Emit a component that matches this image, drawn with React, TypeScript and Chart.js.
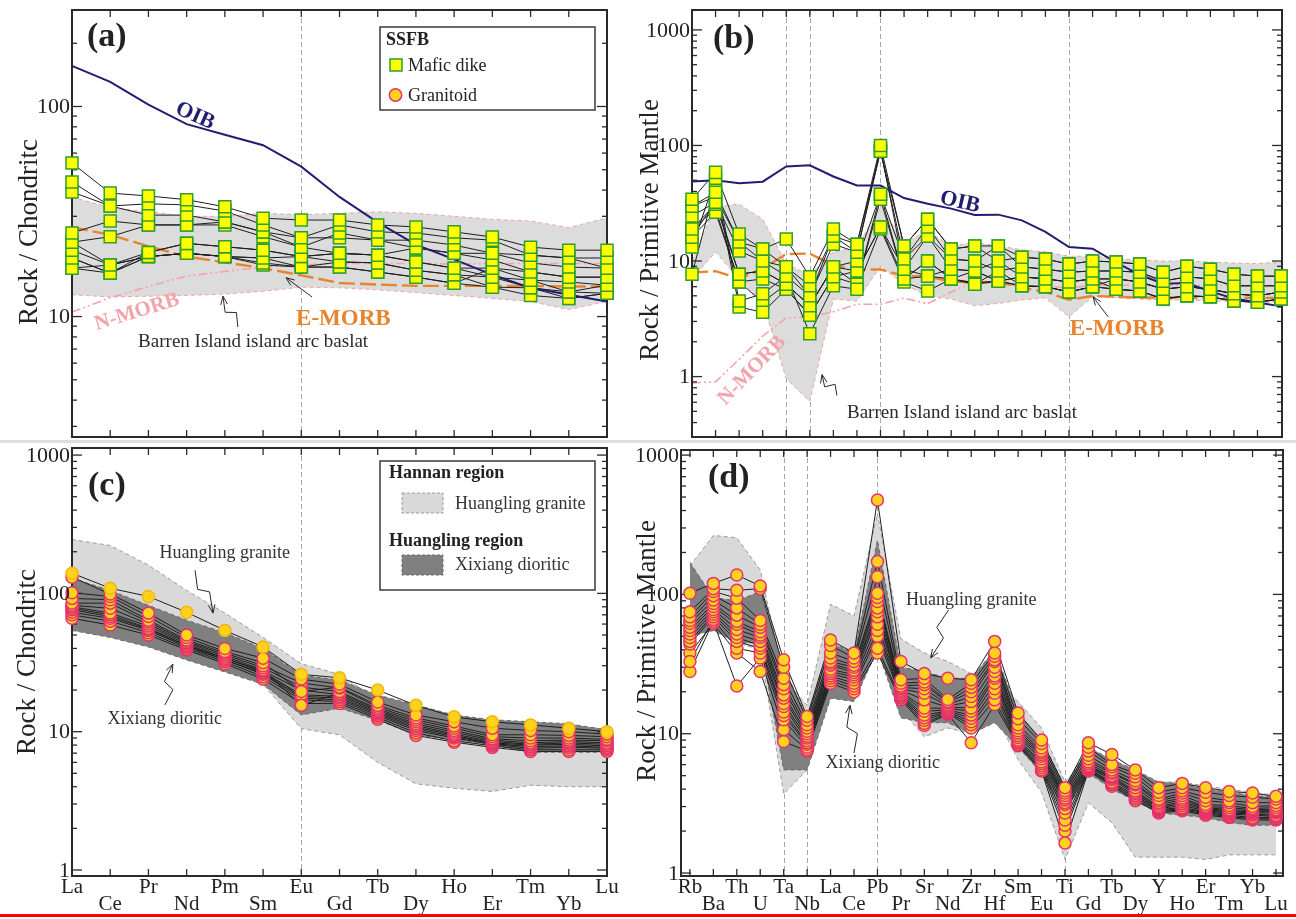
import React, { useEffect, useRef } from 'react';
import { Chart, registerables } from 'chart.js';

Chart.register(...registerables);
Chart.defaults.font.family = '"Liberation Serif", "Times New Roman", serif';

const SERIF = '"Liberation Serif", "Times New Roman", serif';

// ---------- element orders / tick labels ----------
const REE = ['La', 'Ce', 'Pr', 'Nd', 'Pm', 'Sm', 'Eu', 'Gd', 'Tb', 'Dy', 'Ho', 'Er', 'Tm', 'Yb', 'Lu'];
const SPIDER = ['Rb', 'Ba', 'Th', 'U', 'Ta', 'Nb', 'La', 'Ce', 'Pb', 'Pr', 'Sr', 'Nd', 'Zr', 'Hf', 'Sm', 'Eu', 'Ti', 'Gd', 'Tb', 'Dy', 'Y', 'Ho', 'Er', 'Tm', 'Yb', 'Lu'];
const Y_LABELS_A = [10, 100];
const Y_LABELS_BCD = [1, 10, 100, 1000];

// ---------- reference basalts, chondrite-normalized ----------
const OIB_CH = [156, 131, 102, 82.4, 73.4, 65.4, 51.7, 37.1, 28.1, 22.0, 18.7, 15.8, 13.7, 12.7, 11.8];
const EMORB_CH = [26.6, 24.5, 21.6, 19.3, 18.1, 17.0, 15.7, 14.45, 14.2, 14.0, 14.0, 14.0, 14.0, 13.9, 13.9];
const NMORB_CH = [10.5, 12.3, 13.9, 15.6, 16.4, 17.2, 17.6, 17.9, 17.9, 17.9, 17.8, 17.9, 17.9, 17.9, 17.9];

// ---------- reference basalts, primitive-mantle-normalized ----------
const OIB_PM = [48.8, 50.1, 47.1, 48.6, 65.9, 67.3, 53.9, 45.1, 45.1, 35.1, 31.3, 28.4, 25.0, 25.2, 22.5, 17.9, 13.2, 12.8, 9.72, 7.6, 6.37, 6.46, 5.46, 4.73, 4.38, 4.05];
const EMORB_PM = [7.94, 8.16, 7.06, 8.57, 11.5, 11.6, 9.17, 8.45, 8.45, 7.43, 7.35, 6.65, 6.52, 6.57, 5.86, 5.42, 4.62, 4.98, 4.91, 4.82, 4.84, 4.82, 4.81, 4.81, 4.81, 4.78];
const NMORB_PM = [0.88, 0.9, 1.41, 2.24, 3.22, 3.27, 3.64, 4.23, 4.23, 4.78, 4.27, 5.39, 6.61, 6.63, 5.92, 6.07, 5.85, 6.17, 6.2, 6.17, 6.15, 6.16, 6.19, 6.16, 6.19, 6.15];

// ---------- Barren Island arc basalt envelopes ----------
const BARREN_CH_UPPER = [37, 33, 31.5, 30, 30, 31, 30.5, 31, 31.5, 31, 30, 29, 28.5, 26.5, 29.5];
const BARREN_CH_LOWER = [12.7, 12.4, 12.5, 12.6, 12.8, 13.2, 13.8, 13.7, 13.4, 13.0, 12.6, 12.2, 11.8, 10.8, 11.8];
const BARREN_PM_UPPER = [10, 30, 31, 23, 9.5, 7.5, 12, 13, 30, 14.5, 18, 13.5, 14.5, 13.5, 12.5, 12, 11, 11, 10.5, 10.2, 10, 10, 9.8, 9.6, 9.5, 9.8];
const BARREN_PM_LOWER = [7, 12, 7, 4.4, 0.96, 0.61, 4.7, 4.5, 9, 6.3, 5, 4.7, 4.1, 4.3, 4.6, 4.8, 3.3, 4.9, 4.8, 4.7, 4.6, 4.6, 4.5, 4.5, 4.4, 4.4];

// ---------- Huangling granite / Xixiang dioritic envelopes ----------
const HLG_CH_UPPER = [245, 222, 160, 105, 72, 48, 31, 26, 17, 14, 12.5, 12, 11.5, 11, 10.5];
const HLG_CH_LOWER = [60, 55, 45, 37, 30, 22, 10.5, 9.5, 6.0, 4.2, 3.9, 3.7, 4.1, 4.0, 4.0];
const XXD_CH_UPPER = [129, 105, 82, 64, 52, 40, 25.6, 23.6, 18.4, 15.6, 13.2, 12.2, 11.8, 11.4, 10.3];
const XXD_CH_LOWER = [54, 48, 41, 33, 27, 22, 13.2, 14.8, 12.1, 9.5, 8.7, 8.0, 7.1, 7.1, 7.1];

const HLG_PM_UPPER = [160, 265, 255, 150, 25, 16, 85, 70, 380, 48, 38, 33, 27, 24, 17, 11, 4.5, 7, 6, 5, 4.5, 4.5, 4.2, 4.0, 3.8, 3.6];
const HLG_PM_LOWER = [80, 60, 45, 40, 3.7, 5.5, 20, 18, 40, 15, 9.5, 11, 10, 14, 6.5, 3.8, 1.25, 3.2, 2.3, 1.3, 1.3, 1.3, 1.25, 1.35, 1.35, 1.35];
const XXD_PM_UPPER = [170, 95, 90, 105, 30, 13, 45, 38, 245, 30, 28, 25, 25, 40, 14, 9, 4.2, 8, 6.5, 5.5, 4.5, 4.4, 4.0, 3.8, 3.6, 3.5];
const XXD_PM_LOWER = [50, 55, 45, 45, 5.5, 5.5, 18, 17, 40, 13, 12, 12, 10, 12, 8, 5.2, 2.7, 5.2, 4.0, 3.3, 2.7, 2.6, 2.5, 2.3, 2.2, 2.2];

// ---------- SSFB mafic dikes ----------
const MAFIC_CH = [
  [53.8, 38.7, 37.5, 36.0, 33.3, 29.4, 28.8, 28.8, 27.3, 26.7, 25.3, 23.9, 21.4, 20.7, 20.7],
  [43.7, 33.6, 34.4, 34.0, 31.8, 27.3, 23.7, 27.3, 25.3, 25.0, 23.7, 23.1, 19.6, 19.0, 19.0],
  [39.2, 33.6, 30.4, 30.4, 28.2, 25.3, 21.4, 25.0, 23.1, 23.1, 21.9, 20.0, 18.0, 17.2, 17.0],
  [25.0, 28.5, 27.3, 27.3, 28.2, 25.3, 23.7, 23.7, 23.1, 21.2, 20.0, 18.6, 16.3, 15.4, 15.4],
  [22.6, 24.0, 27.3, 27.3, 27.3, 24.0, 21.4, 20.0, 19.6, 18.2, 17.0, 17.0, 14.9, 14.6, 14.1],
  [20.7, 17.6, 20.2, 22.3, 21.5, 20.7, 19.3, 20.0, 19.6, 18.2, 17.0, 15.4, 14.9, 13.1, 14.1],
  [19.0, 16.1, 20.2, 22.3, 21.5, 20.7, 19.3, 18.2, 18.0, 16.6, 15.8, 15.4, 13.7, 13.1, 12.9],
  [17.0, 16.1, 19.3, 20.0, 19.3, 19.0, 17.2, 18.2, 18.0, 16.6, 15.8, 13.8, 13.7, 12.2, 12.9],
  [22.6, 17.6, 19.3, 20.0, 19.3, 18.0, 17.2, 17.2, 16.3, 15.4, 14.4, 13.8, 12.6, 12.2, 12.9],
  [19.0, 16.1, 19.3, 20.0, 19.3, 17.6, 17.2, 17.2, 16.3, 15.4, 14.4, 17.0, 16.3, 15.4, 15.4],
  [17.0, 17.6, 19.3, 20.0, 19.3, 19.0, 19.3, 20.0, 19.6, 21.2, 20.0, 20.0, 19.6, 19.0, 17.0],
];
const MAFIC_PM = [
  [34.2, 58.5, 17.1, 12.7, 15.5, 7.3, 18.9, 14.0, 100, 13.5, 23.0, 12.7, 13.5, 13.5, 10.8, 10.4, 9.4, 10.0, 9.8, 9.4, 8.0, 9.0, 8.5, 7.7, 7.4, 7.4],
  [29.8, 39.4, 14.6, 12.7, 8.9, 6.1, 16.4, 14.0, 89, 10.4, 19.7, 10.4, 10.0, 13.5, 8.9, 8.5, 8.0, 8.2, 8.2, 8.0, 6.7, 7.3, 7.0, 6.1, 6.1, 6.1],
  [24.5, 32.2, 12.2, 10.0, 7.4, 5.0, 14.0, 11.9, 95, 8.5, 16.4, 8.5, 8.2, 10.0, 7.3, 7.0, 6.6, 7.0, 7.0, 6.6, 5.7, 6.0, 5.7, 5.2, 5.0, 5.4],
  [18.9, 31.0, 7.7, 8.2, 6.3, 4.1, 8.9, 10.0, 37.9, 7.0, 10.0, 7.0, 6.3, 8.2, 6.1, 6.0, 5.4, 6.0, 5.7, 5.5, 4.7, 5.0, 4.9, 4.5, 4.4, 4.7],
  [16.1, 26.4, 6.6, 7.0, 5.7, 3.4, 7.3, 8.2, 19.7, 8.5, 7.4, 8.5, 8.2, 6.7, 7.3, 7.0, 6.6, 7.0, 5.7, 5.5, 4.7, 5.0, 4.9, 4.5, 4.4, 4.7],
  [13.2, 52.0, 4.5, 5.2, 7.4, 2.35, 6.1, 5.7, 18.9, 6.6, 5.5, 7.0, 6.3, 6.7, 6.1, 6.0, 5.4, 6.0, 7.0, 6.6, 5.7, 6.0, 5.7, 5.2, 5.0, 5.4],
  [7.7, 45.0, 4.0, 3.6, 5.7, 3.4, 7.3, 6.3, 34.2, 7.0, 7.4, 7.0, 6.5, 6.7, 6.1, 6.0, 5.4, 6.0, 5.7, 5.5, 4.7, 5.0, 4.9, 4.5, 4.4, 4.7],
  [29.8, 36.0, 14.6, 10.0, 8.9, 5.0, 16.4, 11.9, 89, 13.5, 23.0, 12.7, 13.5, 10.0, 10.8, 10.4, 9.4, 10.0, 9.8, 9.4, 8.0, 9.0, 8.5, 7.7, 7.4, 7.4],
  [18.9, 28.0, 6.6, 4.4, 6.3, 4.1, 8.9, 6.3, 37.9, 10.4, 16.4, 10.4, 10.0, 8.2, 8.9, 8.5, 8.0, 8.2, 8.2, 8.0, 6.7, 7.3, 7.0, 6.1, 6.1, 6.1],
  [16.1, 33.0, 7.7, 8.2, 6.3, 4.1, 8.9, 8.2, 19.7, 7.0, 10.0, 7.0, 8.2, 6.7, 7.3, 7.0, 6.6, 7.0, 7.0, 6.6, 5.7, 6.0, 5.7, 5.2, 5.0, 5.4],
];

// ---------- SSFB granitoids ----------
const GRANITOID_CH = [
  [140, 109, 95, 73, 54, 41, 26, 24.5, 20, 15.5, 12.8, 11.8, 11.2, 10.6, 10.0],
  [131, 99, 72, 50, 40, 34, 24, 22, 16.4, 13.2, 11.8, 10.6, 10.2, 10.0, 9.6],
  [101, 95, 68, 48, 38, 31.5, 19.5, 21, 15.5, 12.6, 11.0, 9.5, 9.5, 9.4, 9.2],
  [92, 90, 64, 46, 37, 30, 22.5, 20.7, 15.0, 12.2, 10.6, 9.2, 9.0, 9.0, 8.8],
  [85, 85, 62, 45, 36, 29, 21, 19.5, 14.6, 11.8, 10.2, 8.9, 8.6, 8.7, 8.6],
  [82, 78, 60, 44, 35, 28, 15.5, 19, 14.3, 11.4, 9.9, 8.7, 8.3, 8.5, 8.3],
  [80, 72, 58, 43, 34, 27.5, 20, 18.5, 14.0, 11.1, 9.6, 8.5, 8.1, 8.3, 8.1],
  [78, 70, 56, 42, 34, 27, 18.5, 18, 13.7, 10.8, 9.4, 8.3, 8.0, 8.1, 7.9],
  [76, 68, 55, 42, 33, 26.5, 18, 17.5, 13.4, 10.5, 9.2, 8.2, 7.8, 7.9, 7.7],
  [73, 66, 54, 41, 33, 26, 17.5, 17, 13.1, 10.2, 9.0, 8.1, 7.6, 7.7, 7.6],
  [70, 63, 52, 40, 32, 25, 17, 16.5, 12.7, 9.8, 8.6, 7.9, 7.4, 7.4, 7.4],
  [66, 59, 50, 39, 31, 24, 16, 16.0, 12.3, 9.4, 8.4, 7.7, 7.2, 7.2, 7.2],
];
const GRANITOID_PM = [
  [102, 120, 138, 115, 34, 13.3, 47, 38, 476, 33, 27, 25, 24.4, 46, 14.1, 9.0, 4.1, 8.6, 7.1, 5.5, 4.1, 4.4, 4.1, 3.85, 3.75, 3.55],
  [75, 110, 107, 110, 30, 12.5, 43, 35, 172, 24.4, 25, 17.6, 23, 38, 12.8, 8.5, 3.9, 8.0, 6.0, 5.2, 3.8, 4.1, 3.8, 3.6, 3.5, 3.4],
  [69, 105, 94, 65, 25, 11.6, 38, 33, 134, 23, 23.5, 17, 21.5, 36, 11.6, 7.9, 3.75, 7.5, 5.8, 4.9, 3.6, 3.9, 3.5, 3.3, 3.2, 3.2],
  [65, 98, 80, 61, 22.5, 11, 35, 31, 102, 22, 22.5, 16.7, 20, 34, 11.0, 7.5, 3.6, 7.0, 5.5, 4.6, 3.4, 3.75, 3.3, 3.2, 3.0, 3.05],
  [62, 91, 71, 58, 21, 10.4, 33, 30, 95, 21.5, 21, 16.2, 18.5, 33, 10.5, 7.3, 3.45, 6.6, 5.3, 4.4, 3.3, 3.6, 3.1, 3.05, 2.9, 2.95],
  [58, 86, 64, 54, 19, 10, 32, 28.5, 89, 21, 19.5, 15.8, 17, 30, 10.1, 7.1, 3.35, 6.3, 5.2, 4.3, 3.2, 3.45, 3.0, 2.95, 2.85, 2.85],
  [55, 82, 61, 51, 18, 9.6, 31, 27.5, 80, 20.5, 17.5, 15.5, 15.3, 28, 9.7, 6.9, 3.2, 6.1, 5.0, 4.1, 3.1, 3.35, 2.95, 2.85, 2.8, 2.8],
  [52, 78, 56, 49, 16.5, 9.3, 29, 26.5, 75, 20, 15.3, 15.2, 14.5, 26, 9.4, 6.6, 3.1, 5.9, 4.9, 3.9, 3.0, 3.25, 2.9, 2.8, 2.75, 2.75],
  [49, 75, 52, 46, 15.7, 8.9, 28, 25.5, 69, 19.5, 14.5, 14.8, 13.6, 25, 9.0, 6.3, 2.9, 5.8, 4.8, 3.8, 2.95, 3.15, 2.85, 2.75, 2.7, 2.7],
  [46, 72, 49, 43, 14.3, 8.6, 27, 24.4, 61, 19, 13.6, 14.6, 12.9, 23, 8.8, 6.1, 2.7, 5.7, 4.7, 3.7, 2.9, 3.05, 2.8, 2.7, 2.65, 2.6],
  [44, 69, 46, 41, 13.5, 8.4, 26, 23, 55, 18.7, 13, 14.4, 12.2, 21, 8.6, 5.9, 2.4, 5.6, 4.5, 3.6, 2.85, 2.95, 2.75, 2.65, 2.6, 2.55],
  [33, 66, 41, 38, 12.6, 8.0, 25, 22, 50, 18.3, 12.5, 14.2, 11.6, 19.5, 8.4, 5.7, 2.2, 5.5, 4.4, 3.5, 2.8, 2.9, 2.7, 2.6, 2.5, 2.5],
  [28, 64, 22, 35, 10.7, 7.7, 24, 21, 41, 18, 11.9, 14.0, 11.0, 17.5, 8.3, 5.5, 2.0, 5.5, 4.3, 3.4, 2.75, 2.85, 2.65, 2.55, 2.45, 2.45],
  [38, 62, 38, 28, 8.8, 7.5, 23, 20, 38, 17.5, 11.5, 13.8, 8.6, 16.2, 8.2, 5.4, 1.64, 5.4, 4.2, 3.3, 2.7, 2.8, 2.6, 2.5, 2.4, 2.4],
];

// ---------- styles ----------
const SQUARE = { style: 'rect', r: 8.5, fill: '#ffff00', border: '#2f9e2f' };
const CIRCLE = { style: 'circle', r: 6, fill: '#ffd21f', border: '#e5336b' };
const OIB_COLOR = '#221d70';
const EMORB_COLOR = '#e8832e';
const NMORB_COLOR = '#f2a3ab';

const W = 1296;
const H = 919;

const pts = (vals: number[]) => vals.map((y, x) => ({ x, y }));

const bandPair = (up: number[], lo: number[], fill: string, edge: string, order: number, frameAfter = false) => [
  { data: pts(up), fill: '+1', backgroundColor: fill, borderColor: edge, borderWidth: 1, borderDash: [4, 3], pointRadius: 0, order, clip: false },
  { data: pts(lo), fill: false, borderColor: edge, borderWidth: 1, borderDash: [4, 3], pointRadius: 0, order: order - 1, clip: false, frameAfter },
];

const refLine = (vals: number[], color: string, width: number, dash: number[], order: number, frameAfter = false) => ({
  data: pts(vals), borderColor: color, borderWidth: width, borderDash: dash, pointRadius: 0, fill: false, order, clip: false, frameAfter,
});

const sampleLines = (series: number[][]) =>
  series.map((s) => ({ data: pts(s), borderColor: '#1e1e1e', borderWidth: 1, pointRadius: 0, fill: false, order: 30, clip: false }));

const sampleMarks = (series: number[][], m: any, firstBorder?: string) =>
  series.map((s, i) => ({
    data: pts(s), showLine: false, pointStyle: m.style, pointRadius: m.r,
    pointBackgroundColor: m.fill, pointBorderColor: i === 0 && firstBorder ? firstBorder : m.border,
    pointBorderWidth: 1.5, order: 10, clip: false,
  }));

// ---------- drawing helpers ----------
function seg(ctx: CanvasRenderingContext2D, x1: number, y1: number, x2: number, y2: number) {
  ctx.beginPath();
  ctx.moveTo(x1, y1);
  ctx.lineTo(x2, y2);
  ctx.stroke();
}

function drawFrame(chart: any, s: any) {
  const { ctx, chartArea: ca, scales } = chart;
  const x = scales.x, y = scales.y;
  ctx.save();
  ctx.setLineDash([]);
  ctx.strokeStyle = '#2a2a2a';
  ctx.lineWidth = 2;
  ctx.strokeRect(ca.left, ca.top, ca.right - ca.left, ca.bottom - ca.top);
  ctx.lineWidth = 1.3;
  const lo = Math.floor(Math.log10(y.min));
  const hi = Math.ceil(Math.log10(y.max));
  for (let d = lo; d <= hi; d++) {
    for (let m = 1; m <= 9; m++) {
      const v = m * Math.pow(10, d);
      if (v < y.min || v > y.max) continue;
      const py = y.getPixelForValue(v);
      const len = m === 1 ? 10 : 5;
      seg(ctx, ca.left, py, ca.left + len, py);
      seg(ctx, ca.right, py, ca.right - len, py);
    }
  }
  for (let i = 0; i < s.labels.length; i++) {
    const px = x.getPixelForValue(i);
    if (px - ca.left < 3 || ca.right - px < 3) continue;
    seg(ctx, px, ca.top, px, ca.top + 7);
    seg(ctx, px, ca.bottom, px, ca.bottom - 7);
  }
  ctx.restore();
}

function drawArrow(ctx: CanvasRenderingContext2D, a: any, b: any, zig: boolean) {
  ctx.beginPath();
  ctx.moveTo(a.x, a.y);
  let prev = a;
  if (zig) {
    const dx = b.x - a.x, dy = b.y - a.y, L = Math.hypot(dx, dy);
    const nx = -dy / L, ny = dx / L;
    const p1 = { x: a.x + dx * 0.4 + nx * 5, y: a.y + dy * 0.4 + ny * 5 };
    const p2 = { x: a.x + dx * 0.55 - nx * 5, y: a.y + dy * 0.55 - ny * 5 };
    ctx.lineTo(p1.x, p1.y);
    ctx.lineTo(p2.x, p2.y);
    prev = p2;
  }
  ctx.lineTo(b.x, b.y);
  ctx.stroke();
  const ang = Math.atan2(b.y - prev.y, b.x - prev.x);
  ctx.beginPath();
  for (const sgn of [-1, 1]) {
    ctx.moveTo(b.x, b.y);
    ctx.lineTo(b.x - 9 * Math.cos(ang + sgn * 0.38), b.y - 9 * Math.sin(ang + sgn * 0.38));
  }
  ctx.stroke();
}

function drawLegend(ctx: CanvasRenderingContext2D, s: any) {
  const [bx, by, bw, bh] = s.legendBox;
  ctx.save();
  ctx.setLineDash([]);
  ctx.fillStyle = '#ffffff';
  ctx.fillRect(bx, by, bw, bh);
  ctx.strokeStyle = '#3a3a3a';
  ctx.lineWidth = 1.5;
  ctx.strokeRect(bx, by, bw, bh);
  ctx.fillStyle = '#222';
  ctx.textAlign = 'left';
  ctx.textBaseline = 'alphabetic';
  if (s.legend === 'markers') {
    ctx.font = `bold 18px ${SERIF}`;
    ctx.fillText('SSFB', bx + 6, by + 18);
    ctx.font = `18px ${SERIF}`;
    ctx.fillStyle = SQUARE.fill;
    ctx.strokeStyle = SQUARE.border;
    ctx.lineWidth = 1.5;
    ctx.fillRect(bx + 10, by + 32, 12, 12);
    ctx.strokeRect(bx + 10, by + 32, 12, 12);
    ctx.beginPath();
    ctx.arc(bx + 15.5, by + 68, 6.2, 0, Math.PI * 2);
    ctx.fillStyle = CIRCLE.fill;
    ctx.fill();
    ctx.strokeStyle = CIRCLE.border;
    ctx.stroke();
    ctx.fillStyle = '#222';
    ctx.fillText('Mafic dike', bx + 28, by + 44);
    ctx.fillText('Granitoid', bx + 28, by + 74);
  } else {
    ctx.font = `bold 18px ${SERIF}`;
    ctx.fillText('Hannan region', bx + 9, by + 17);
    ctx.fillText('Huangling region', bx + 9, by + 85);
    ctx.lineWidth = 1;
    ctx.setLineDash([3, 2]);
    ctx.fillStyle = '#d9d9d9';
    ctx.fillRect(bx + 22, by + 32, 41, 20);
    ctx.strokeStyle = '#9a9a9a';
    ctx.strokeRect(bx + 22, by + 32, 41, 20);
    ctx.fillStyle = '#808080';
    ctx.fillRect(bx + 22, by + 94, 41, 20);
    ctx.strokeStyle = '#6a6a6a';
    ctx.strokeRect(bx + 22, by + 94, 41, 20);
    ctx.setLineDash([]);
    ctx.fillStyle = '#333';
    ctx.font = `18px ${SERIF}`;
    ctx.fillText('Huangling granite', bx + 75, by + 48);
    ctx.fillText('Xixiang dioritic', bx + 75, by + 109);
  }
  ctx.restore();
}

function makeDecor(s: any) {
  return {
    id: 'decor',
    beforeDatasetsDraw(chart: any) {
      const { ctx, chartArea: ca, scales } = chart;
      ctx.save();
      ctx.strokeStyle = '#a9a9a9';
      ctx.lineWidth = 1;
      ctx.setLineDash([5, 3]);
      for (const i of s.dashedAt) {
        const px = Math.round(scales.x.getPixelForValue(i)) + 0.5;
        seg(ctx, px, ca.top, px, ca.bottom);
      }
      ctx.restore();
    },
    afterDatasetDraw(chart: any, args: any) {
      if (chart.data.datasets[args.index].frameAfter) drawFrame(chart, s);
    },
    afterDatasetsDraw(chart: any) {
      const { ctx, chartArea: ca, scales } = chart;
      const x = scales.x, y = scales.y;
      ctx.save();
      ctx.fillStyle = '#222';
      // y tick labels
      ctx.font = `22px ${SERIF}`;
      ctx.textAlign = 'right';
      ctx.textBaseline = 'middle';
      for (const v of s.yLabels) ctx.fillText(String(v), ca.left - 2, y.getPixelForValue(v) + 1);
      // x tick labels, staggered in two rows
      if (s.showXLabels) {
        ctx.font = `21px ${SERIF}`;
        ctx.textAlign = 'center';
        s.labels.forEach((lab: string, i: number) => {
          ctx.fillText(lab, x.getPixelForValue(i), ca.bottom + 11 + (i % 2) * 17);
        });
      }
      // y title
      ctx.save();
      ctx.translate(s.yTitleAt[0], s.yTitleAt[1]);
      ctx.rotate(-Math.PI / 2);
      ctx.font = `27px ${SERIF}`;
      ctx.textAlign = 'center';
      ctx.textBaseline = 'middle';
      ctx.fillText(s.yTitle, 0, 0);
      ctx.restore();
      // panel letter
      ctx.font = `bold 34px ${SERIF}`;
      ctx.textAlign = 'left';
      ctx.textBaseline = 'alphabetic';
      ctx.fillText(s.panel, s.panelAt[0], s.panelAt[1]);
      // annotations
      for (const t of s.texts) {
        ctx.save();
        ctx.translate(x.getPixelForValue(t.at[0]), y.getPixelForValue(t.at[1]));
        ctx.rotate(((t.rot || 0) * Math.PI) / 180);
        ctx.font = t.font;
        ctx.fillStyle = t.color;
        ctx.textAlign = 'center';
        ctx.textBaseline = 'middle';
        ctx.fillText(t.text, 0, 0);
        ctx.restore();
      }
      ctx.strokeStyle = '#2a2a2a';
      ctx.lineWidth = 1;
      ctx.setLineDash([]);
      for (const a of s.arrows) {
        const p = { x: x.getPixelForValue(a.from[0]), y: y.getPixelForValue(a.from[1]) };
        const q = { x: x.getPixelForValue(a.to[0]), y: y.getPixelForValue(a.to[1]) };
        drawArrow(ctx, p, q, !!a.zig);
      }
      ctx.restore();
      if (s.legend) drawLegend(ctx, s);
    },
  };
}

function buildConfig(s: any) {
  return {
    type: 'line',
    data: { datasets: s.datasets },
    options: {
      responsive: false,
      animation: false,
      events: [],
      layout: { padding: { left: s.area.l, top: s.area.t, right: W - s.area.r, bottom: H - s.area.b } },
      scales: {
        x: { type: 'linear', display: false, min: s.xMin, max: s.xMax },
        y: { type: 'logarithmic', display: false, min: s.yMin, max: s.yMax },
      },
      plugins: { legend: { display: false }, tooltip: { enabled: false } },
    },
    plugins: [makeDecor(s)],
  };
}

const bold = (px: number) => `bold ${px}px ${SERIF}`;
const reg = (px: number) => `${px}px ${SERIF}`;

const PANELS = [
  {
    key: 'a',
    area: { l: 72, t: 10, r: 607, b: 437 },
    xMin: 0, xMax: 14, yMin: 2.67, yMax: 288,
    labels: REE, showXLabels: false, yLabels: Y_LABELS_A,
    yTitle: 'Rock / Chondritc', yTitleAt: [30, 232],
    panel: '(a)', panelAt: [87, 46],
    dashedAt: [6],
    legend: 'markers', legendBox: [380, 27, 215, 83],
    datasets: [
      ...bandPair(BARREN_CH_UPPER, BARREN_CH_LOWER, '#dcdcdc', '#e9a8a2', 55),
      refLine(NMORB_CH, NMORB_COLOR, 1.6, [9, 3, 2, 3, 2, 3], 40),
      refLine(EMORB_CH, EMORB_COLOR, 2.4, [16, 5], 39, true),
      ...sampleLines(MAFIC_CH),
      refLine(OIB_CH, OIB_COLOR, 2, [], 20),
      ...sampleMarks(MAFIC_CH, SQUARE),
    ],
    texts: [
      { text: 'OIB', at: [3.22, 90], font: bold(22), color: OIB_COLOR, rot: 24 },
      { text: 'E-MORB', at: [7.1, 9.73], font: bold(23), color: EMORB_COLOR },
      { text: 'N-MORB', at: [1.7, 10.5], font: bold(21), color: NMORB_COLOR, rot: -17 },
      { text: 'Barren Island island arc baslat', at: [4.74, 7.56], font: reg(19), color: '#2a2a2a' },
    ],
    arrows: [
      { from: [4.34, 8.91], to: [3.95, 12.5], zig: true },
      { from: [6.28, 12.4], to: [5.6, 15.3] },
    ],
  },
  {
    key: 'b',
    area: { l: 692, t: 10, r: 1282, b: 437 },
    xMin: 0, xMax: 25.04, yMin: 0.31, yMax: 1487,
    labels: SPIDER, showXLabels: false, yLabels: Y_LABELS_BCD,
    yTitle: 'Rock / Primitive Mantle', yTitleAt: [651, 230],
    panel: '(b)', panelAt: [713, 48],
    dashedAt: [4, 5, 8, 16],
    datasets: [
      ...bandPair(BARREN_PM_UPPER, BARREN_PM_LOWER, '#dcdcdc', '#e9a8a2', 55),
      refLine(NMORB_PM, NMORB_COLOR, 1.6, [9, 3, 2, 3, 2, 3], 40),
      refLine(EMORB_PM, EMORB_COLOR, 2.4, [16, 5], 39, true),
      ...sampleLines(MAFIC_PM),
      refLine(OIB_PM, OIB_COLOR, 2, [], 20),
      ...sampleMarks(MAFIC_PM, SQUARE),
    ],
    texts: [
      { text: 'OIB', at: [11.37, 32.2], font: bold(22), color: OIB_COLOR, rot: 13 },
      { text: 'E-MORB', at: [18.04, 2.59], font: bold(23), color: EMORB_COLOR },
      { text: 'N-MORB', at: [2.55, 1.13], font: bold(21), color: NMORB_COLOR, rot: -46 },
      { text: 'Barren Island island arc baslat', at: [11.46, 0.48], font: reg(19), color: '#2a2a2a' },
    ],
    arrows: [
      { from: [6.15, 0.686], to: [5.52, 1.04], zig: true },
      { from: [17.66, 3.29], to: [17.02, 4.9] },
    ],
  },
  {
    key: 'c',
    area: { l: 72, t: 448, r: 607, b: 876 },
    xMin: 0, xMax: 14, yMin: 0.905, yMax: 1125,
    labels: REE, showXLabels: true, yLabels: Y_LABELS_BCD,
    yTitle: 'Rock / Chondritc', yTitleAt: [28, 662],
    panel: '(c)', panelAt: [88, 495],
    dashedAt: [6],
    legend: 'bands', legendBox: [380, 461, 215, 129],
    datasets: [
      ...bandPair(HLG_CH_UPPER, HLG_CH_LOWER, '#d9d9d9', '#9a9a9a', 55),
      ...bandPair(XXD_CH_UPPER, XXD_CH_LOWER, '#808080', '#6a6a6a', 53, true),
      ...sampleLines(GRANITOID_CH),
      ...sampleMarks(GRANITOID_CH, CIRCLE, '#f2b705'),
    ],
    texts: [
      { text: 'Huangling granite', at: [4.0, 196], font: reg(18), color: '#333' },
      { text: 'Xixiang dioritic', at: [2.43, 12.2], font: reg(18), color: '#333' },
    ],
    arrows: [
      { from: [3.22, 147], to: [3.69, 72], zig: true },
      { from: [2.43, 15.6], to: [2.64, 30.8], zig: true },
    ],
  },
  {
    key: 'd',
    area: { l: 681, t: 450, r: 1283, b: 876 },
    xMin: -0.38, xMax: 25.3, yMin: 0.952, yMax: 1088,
    labels: SPIDER, showXLabels: true, yLabels: Y_LABELS_BCD,
    yTitle: 'Rock / Primitive Mantle', yTitleAt: [648, 651],
    panel: '(d)', panelAt: [708, 487],
    dashedAt: [4, 5, 8, 16],
    datasets: [
      ...bandPair(HLG_PM_UPPER, HLG_PM_LOWER, '#d9d9d9', '#9a9a9a', 55),
      ...bandPair(XXD_PM_UPPER, XXD_PM_LOWER, '#808080', '#6a6a6a', 53, true),
      ...sampleLines(GRANITOID_PM),
      ...sampleMarks(GRANITOID_PM, CIRCLE),
    ],
    texts: [
      { text: 'Huangling granite', at: [12.0, 91], font: reg(18), color: '#333' },
      { text: 'Xixiang dioritic', at: [8.23, 6.15], font: reg(18), color: '#333' },
    ],
    arrows: [
      { from: [11.04, 77.5], to: [10.27, 35], zig: true },
      { from: [7.0, 7.27], to: [6.83, 16.0], zig: true },
    ],
  },
];

function Panel({ spec }: { spec: any }) {
  const ref = useRef<HTMLCanvasElement>(null);
  useEffect(() => {
    const chart = new Chart(ref.current as HTMLCanvasElement, buildConfig(spec) as any);
    return () => chart.destroy();
  }, [spec]);
  return <canvas ref={ref} width={W} height={H} style={{ position: 'absolute', left: 0, top: 0, width: W, height: H }} />;
}

export default function App() {
  return (
    <div style={{ position: 'absolute', left: 0, top: 0, width: W, height: H, background: '#ffffff', overflow: 'hidden' }}>
      <div style={{ position: 'absolute', left: 0, top: 440, width: W, height: 3, background: '#dedede' }} />
      {PANELS.map((p) => (
        <Panel key={p.key} spec={p} />
      ))}
      <div style={{ position: 'absolute', left: 0, top: 914, width: W, height: 3, background: '#ff0000' }} />
    </div>
  );
}
